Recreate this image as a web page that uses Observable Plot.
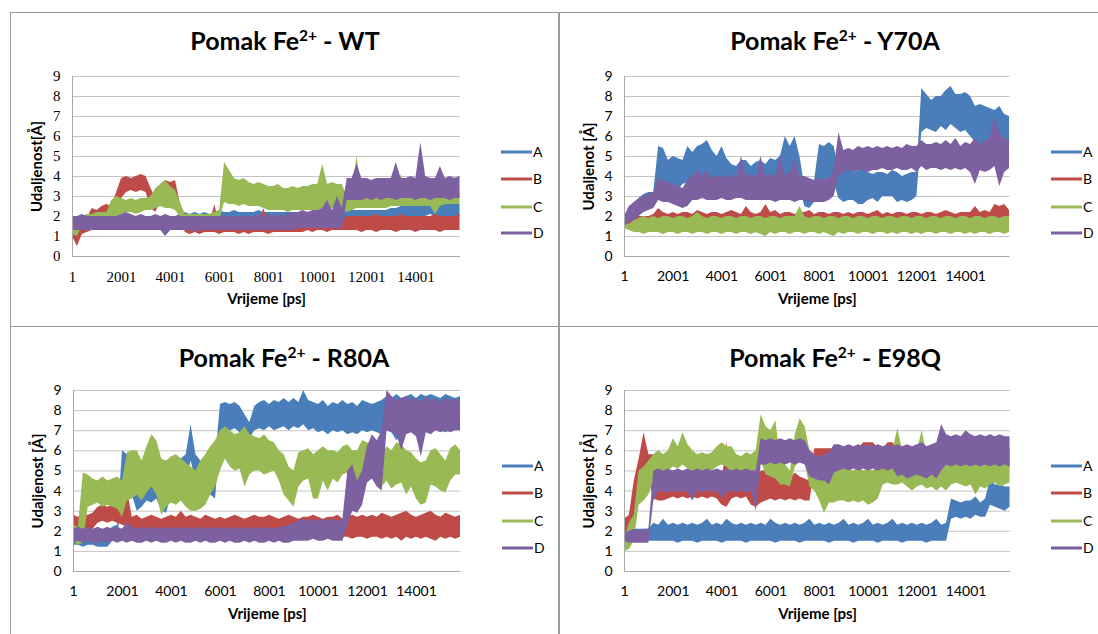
<!DOCTYPE html>
<html><head><meta charset="utf-8">
<script src="https://cdn.jsdelivr.net/npm/d3@7"></script>
<script src="https://cdn.jsdelivr.net/npm/@observablehq/plot@0.6"></script>
<style>
html,body{margin:0;padding:0;background:#fff;}
body{width:1098px;height:634px;overflow:hidden;position:relative;font-family:Lato,"Open Sans",sans-serif;color:#000;}
.panel{position:absolute;border:1px solid #9c9c9c;box-sizing:border-box;}
.title{position:absolute;font-weight:bold;font-size:25px;line-height:1;transform:translate(-50%,-50%);white-space:nowrap;}
.title sup{font-size:0.62em;vertical-align:0;position:relative;top:-0.55em;}
.chart{position:absolute;}
.leg{position:absolute;font-size:14px;line-height:1;white-space:nowrap;}
</style>
</head><body>
<script>
// ---------- data (Å), one value every sampleStep ps ----------
const sampleStep = 200;
const xTicks = [1,2001,4001,6001,8001,10001,12001,14001];
const yTicks = [0,1,2,3,4,5,6,7,8,9];
const seriesNames = ["A","B","C","D"];
const seriesColors = ["#4A7EBB","#BE4B48","#98B954","#7D60A0"];
const panelNames = ["WT","Y70A","R80A","E98Q"];
const yLabels = ["Udaljenost[Å]","Udaljenot [Å]","Udaljenost [Å]","Udaljenost [Å]"];
const xLabel = "Vrijeme [ps]";

// WT
const wtA_lo = [1.4,1.4,1.5,1.5,1.4,1.5,1.5,1.4,1.5,1.5, 1.5,1.4,1.5,1.5,1.4,1.5,1.5,1.4,1.5,1.5, 1.5,1.5,1.5,1.6,1.6,1.6,1.6,1.6,1.6,1.6, 1.6,1.5,1.6,1.6,1.5,1.6,1.6,1.5,1.6,1.6, 1.6,1.5,1.6,1.6,1.6,1.5,1.6,1.6,1.6,1.6, 1.6,1.6,1.6,1.6,1.6,1.6,1.9,1.9,1.9,1.8, 1.9,1.9,1.9,1.9,1.9,1.9,1.9,1.9,2.0,2.0, 2.0,2.0,2.0,2.1,2.0,2.0,2.0,2.0,2.0,2.0];
const wtA_hi = [1.9,1.9,2.0,2.0,1.9,2.0,2.0,1.9,2.0,2.0, 2.0,2.0,2.0,2.0,2.0,2.0,2.0,2.0,2.0,2.0, 2.0,2.0,2.1,2.2,2.1,2.2,2.1,2.2,2.1,2.2, 2.3,2.2,2.2,2.3,2.2,2.2,2.2,2.2,2.3,2.2, 2.2,2.2,2.2,2.2,2.2,2.2,2.2,2.2,2.2,2.2, 2.2,2.2,2.2,2.2,2.2,2.2,2.3,2.3,2.3,2.3, 2.3,2.3,2.3,2.3,2.3,2.4,2.4,2.5,2.6,2.6, 2.7,2.6,2.7,2.8,2.9,2.7,2.8,2.7,2.7,2.6];
const wtB_lo = [1.0,0.5,1.1,1.2,1.3,1.3,1.4,1.4,1.5,1.6, 2.9,3.2,3.3,3.2,3.3,3.2,2.4,2.2,2.8,3.0, 2.9,2.7,1.8,1.2,1.1,1.2,1.1,1.2,1.2,1.2, 1.1,1.2,1.2,1.2,1.1,1.2,1.1,1.2,1.2,1.2, 1.1,1.2,1.2,1.2,1.2,1.2,1.2,1.2,1.3,1.2, 1.3,1.3,1.2,1.3,1.3,1.3,1.3,1.3,1.3,1.2, 1.3,1.3,1.2,1.3,1.3,1.3,1.2,1.3,1.3,1.3, 1.2,1.3,1.3,1.3,1.3,1.2,1.3,1.3,1.3,1.3];
const wtB_hi = [1.6,1.5,1.8,1.9,2.4,2.3,2.5,2.6,2.5,3.2, 3.9,4.0,3.9,4.0,4.1,4.0,3.4,2.9,3.6,3.8, 3.7,3.8,2.6,2.0,1.7,1.6,1.6,1.7,1.6,2.6, 1.6,1.6,1.7,1.6,1.6,1.6,1.7,1.6,1.6,2.4, 1.6,1.6,1.6,1.6,1.7,1.6,1.6,1.6,1.7,1.7, 1.7,1.6,1.7,1.7,1.7,1.7,2.0,2.0,2.0,2.0, 2.0,2.0,2.1,2.0,2.0,2.0,2.0,2.1,2.0,2.0, 2.0,2.0,2.0,2.0,2.1,2.0,2.0,2.0,2.0,2.1];
const wtC_lo = [1.1,1.0,1.5,1.5,1.6,1.6,1.6,1.7,1.9,2.0, 2.1,2.2,2.2,2.1,2.2,2.3,2.3,2.4,2.5,2.4, 2.4,2.3,2.0,1.7,1.7,1.7,1.7,1.7,1.7,1.8, 1.8,2.7,2.6,2.6,2.5,2.6,2.5,2.5,2.5,2.4, 2.3,2.3,2.3,2.3,2.2,2.3,2.3,2.3,2.3,2.3, 2.3,2.4,2.4,2.4,2.4,2.3,2.2,2.3,2.4,2.4, 2.4,2.4,2.4,2.4,2.4,2.5,2.5,2.5,2.5,2.5, 2.5,2.5,2.5,2.5,2.1,2.5,2.6,2.6,2.6,2.6];
const wtC_hi = [1.5,1.4,2.0,2.1,2.1,2.2,2.2,2.2,2.8,3.0, 2.9,2.8,2.9,2.8,2.9,2.9,3.0,3.4,3.6,3.8, 3.5,3.3,2.7,2.1,2.1,2.1,2.1,2.1,2.1,2.2, 2.3,4.7,4.3,3.9,3.8,3.9,3.7,3.6,3.7,3.6, 3.5,3.5,3.6,3.4,3.4,3.5,3.4,3.5,3.5,3.6, 3.6,4.6,3.6,3.7,3.6,3.6,3.0,3.2,5.0,3.2, 3.0,3.0,3.0,3.0,3.0,3.0,3.1,4.1,3.0,3.0, 3.0,3.1,3.0,3.0,3.0,3.1,3.1,3.2,4.0,3.1];
const wtD_lo = [1.3,1.3,1.3,1.3,1.3,1.3,1.3,1.3,1.3,1.3, 1.3,1.3,1.3,1.3,1.3,1.3,1.3,1.3,1.3,1.0, 1.3,1.3,1.3,1.3,1.3,1.2,1.3,1.3,1.3,1.3, 1.3,1.3,1.3,1.3,1.3,1.3,1.3,1.3,1.3,1.3, 1.3,1.3,1.3,1.3,1.3,1.3,1.4,1.4,1.4,1.4, 1.4,1.4,1.4,1.4,1.4,1.4,2.8,2.8,2.8,2.8, 2.9,2.8,2.9,2.8,2.9,2.9,2.8,2.9,2.9,2.9, 2.8,2.9,2.9,2.8,2.9,2.9,2.9,2.8,2.9,2.9];
const wtD_hi = [2.0,2.0,2.1,2.0,2.0,2.0,2.0,2.0,2.0,2.0, 2.1,2.2,2.1,2.0,2.1,2.0,2.0,2.1,2.0,2.1, 2.0,2.0,2.0,2.0,2.0,2.0,2.0,2.0,2.0,2.0, 2.0,2.0,2.0,2.0,2.0,2.0,2.0,2.0,2.1,2.0, 2.1,2.0,2.1,2.0,2.1,2.2,2.2,2.3,2.2,2.3, 2.3,2.4,2.8,2.3,3.0,2.4,3.9,3.9,4.6,3.9, 3.9,3.8,3.9,3.9,3.9,3.9,4.7,3.9,3.9,4.0, 3.9,5.7,4.0,3.9,3.9,4.5,3.9,4.0,3.9,4.0];

// Y70A
const yA_lo = [1.7,1.8,2.0,2.3,2.5,2.6,2.7,3.6,3.5,3.4, 3.5,3.3,3.6,3.7,3.5,3.8,3.9,4.0,3.8,3.7, 3.9,3.6,3.5,3.4,3.5,3.6,3.5,3.6,3.5,3.8, 3.8,3.6,3.7,3.9,4.0,3.9,3.4,2.5,2.4,2.7, 3.7,3.6,3.8,3.7,2.9,2.7,2.8,2.8,2.6,2.6, 2.8,2.9,2.7,3.0,3.0,3.0,2.7,2.8,2.7,2.8, 3.0,6.2,6.4,6.3,6.2,6.5,6.3,6.6,6.4,6.2, 6.3,6.0,5.7,5.6,5.6,5.8,5.7,5.8,5.4,5.6];
const yA_hi = [2.0,2.3,2.6,2.9,3.1,3.2,3.2,5.5,5.4,4.8, 5.0,4.9,4.8,5.5,5.2,5.5,5.6,5.8,5.3,5.0, 5.5,4.9,4.6,4.5,4.8,4.8,4.5,4.7,4.8,4.6, 4.9,4.8,5.0,6.0,5.5,6.0,5.0,3.5,3.2,3.8, 5.6,5.5,5.7,5.5,4.4,4.3,4.4,4.2,4.3,4.4, 4.2,4.1,4.2,4.2,4.1,4.3,4.2,4.0,4.1,4.2, 4.2,8.4,8.1,7.8,8.0,8.0,8.3,8.5,8.1,8.1, 8.2,8.0,7.5,7.6,7.5,7.4,7.3,7.5,7.1,7.0];
const yB_lo = [1.6,1.6,1.6,1.6,1.6,1.6,1.6,1.7,1.7,1.7, 1.7,1.7,1.7,1.7,1.7,1.7,1.7,1.7,1.7,1.7, 1.7,1.7,1.7,1.7,1.7,1.7,1.7,1.7,1.7,1.7, 1.7,1.7,1.7,1.7,1.7,1.7,1.7,1.7,1.7,1.7, 1.7,1.7,1.7,1.7,1.7,1.7,1.7,1.7,1.7,1.7, 1.7,1.7,1.7,1.7,1.7,1.7,1.7,1.7,1.7,1.7, 1.7,1.7,1.7,1.7,1.7,1.7,1.7,1.7,1.7,1.7, 1.7,1.7,1.7,1.7,1.7,1.7,1.7,1.7,1.7,1.7];
const yB_hi = [1.9,2.0,2.0,2.0,2.0,2.0,2.1,2.4,2.2,2.1, 2.2,2.1,2.2,2.2,2.1,2.3,2.2,2.1,2.2,2.2, 2.1,2.2,2.3,2.2,2.1,2.5,2.2,2.1,2.2,2.6, 2.2,2.3,2.1,2.2,2.2,2.1,2.2,2.2,2.3,2.1, 2.2,2.2,2.1,2.2,2.2,2.1,2.2,2.1,2.2,2.2, 2.1,2.2,2.3,2.1,2.2,2.1,2.2,2.2,2.1,2.2, 2.2,2.1,2.2,2.2,2.1,2.2,2.3,2.2,2.1,2.2, 2.2,2.2,2.5,2.2,2.3,2.2,2.6,2.5,2.6,2.3];
const yC_lo = [1.4,1.3,1.2,1.2,1.1,1.2,1.2,1.2,1.1,1.2, 1.2,1.1,1.2,1.2,1.1,1.2,1.2,1.1,1.2,1.2, 1.1,1.2,1.2,1.1,1.2,1.2,1.1,1.2,1.1,1.0, 1.2,1.1,1.2,1.2,1.1,1.2,1.2,1.1,1.2,1.2, 1.1,1.2,1.1,1.0,1.2,1.1,1.2,1.2,1.1,1.2, 1.2,1.1,1.2,1.2,1.1,1.2,1.1,1.2,1.2,1.1, 1.2,1.1,1.2,1.2,1.1,1.2,1.2,1.1,1.2,1.2, 1.1,1.2,1.1,1.2,1.2,1.1,1.2,1.2,1.1,1.2];
const yC_hi = [1.7,1.6,1.8,1.9,2.0,1.9,2.0,1.9,2.0,2.0, 1.9,2.0,2.0,1.9,2.0,2.2,2.0,1.9,2.0,2.0, 1.9,2.0,2.0,1.9,2.0,2.0,1.9,2.0,2.0,1.9, 2.0,2.0,1.9,2.0,2.0,2.0,2.5,2.0,1.9,2.0, 2.0,1.9,2.0,2.0,1.9,2.0,2.0,1.9,2.0,2.0, 1.9,2.0,2.0,1.9,2.0,2.0,1.9,2.0,2.0,1.9, 2.0,2.0,1.9,2.0,2.0,1.9,2.0,2.0,1.9,2.0, 2.0,1.9,2.0,2.0,1.9,2.0,2.0,1.9,2.0,2.0];
const yD_lo = [1.5,1.7,1.8,2.0,2.2,2.3,2.4,2.8,2.7,2.7, 2.6,2.5,2.4,2.5,2.8,2.8,2.9,2.8,2.8,2.8, 2.9,2.8,2.8,2.9,2.9,2.8,2.8,2.8,2.8,2.8, 2.8,2.7,2.8,2.8,2.8,2.7,2.8,2.8,2.7,2.7, 2.7,2.7,2.8,3.0,4.0,4.2,4.3,4.2,4.3,4.3, 4.2,4.3,4.3,4.4,4.3,4.3,4.4,4.3,4.3,4.4, 4.2,4.5,4.3,4.4,4.4,4.3,4.4,4.3,4.4,4.3, 4.4,4.2,3.6,4.3,4.2,4.3,4.5,3.5,4.2,4.4];
const yD_hi = [2.0,2.5,2.7,2.9,3.0,3.1,3.2,3.9,3.8,3.7, 3.6,3.5,3.4,3.8,4.0,4.3,4.0,4.3,3.9,4.0, 4.0,3.9,4.1,3.9,5.0,4.0,4.1,3.9,5.0,4.0, 4.1,4.0,5.1,4.0,4.2,4.9,4.0,4.0,3.9,3.8, 3.9,3.8,3.9,4.3,6.2,5.3,5.4,5.3,5.5,5.4, 5.5,5.4,5.5,5.4,5.5,5.4,5.5,5.4,5.6,5.5, 5.5,5.8,5.6,5.6,5.7,5.6,5.8,5.6,5.9,5.5, 5.7,5.6,5.9,5.6,5.8,5.9,6.9,6.2,5.9,5.8];

// R80A
const rA_lo = [1.3,1.3,1.2,1.3,1.3,1.2,1.2,1.2,1.5,1.6, 3.8,4.0,3.8,3.0,3.2,3.5,3.4,3.6,3.0,2.9, 3.8,4.3,4.2,4.4,5.5,4.5,4.0,4.2,3.8,3.6, 6.8,7.0,7.0,7.1,6.9,6.7,6.6,7.0,7.1,7.0, 7.2,7.0,7.1,7.2,7.0,7.2,7.1,7.3,7.0,7.1, 6.9,7.0,6.8,7.0,6.9,7.0,6.8,6.9,6.8,7.0, 6.9,7.0,6.9,6.8,7.0,6.9,6.5,6.8,7.0,6.9, 7.0,6.8,7.0,6.9,7.1,7.0,6.9,7.0,7.1,7.0];
const rA_hi = [2.0,1.9,1.9,1.9,1.9,1.9,1.9,2.0,2.2,2.3, 6.0,5.8,5.5,4.5,4.6,5.8,5.5,5.2,5.4,5.0, 5.6,5.7,5.6,5.8,7.3,5.8,5.5,5.6,5.8,5.6, 8.3,8.4,8.3,8.4,8.2,7.8,7.4,8.2,8.4,8.5, 8.3,8.5,8.4,8.6,8.4,8.6,8.4,9.0,8.5,8.4, 8.3,8.5,8.2,8.4,8.3,8.5,8.3,8.4,8.2,8.5, 8.4,8.3,8.4,8.5,8.7,8.6,8.8,8.6,8.7,8.8, 8.6,8.8,8.7,8.8,8.7,8.6,8.8,8.7,8.6,8.7];
const rB_lo = [2.0,2.0,2.1,2.0,2.1,2.4,2.5,2.4,2.5,2.4, 2.3,2.2,1.7,1.7,1.6,1.7,1.7,1.6,1.7,1.7, 1.7,1.6,1.7,1.7,1.7,1.6,1.7,1.7,1.7,1.6, 1.7,1.7,1.6,1.7,1.7,1.7,1.6,1.7,1.7,1.7, 1.6,1.7,1.7,1.7,1.6,1.7,1.7,1.7,1.6,1.7, 1.7,1.7,1.6,1.7,1.7,1.7,1.7,1.6,1.7,1.7, 1.6,1.7,1.7,1.6,1.7,1.6,1.7,1.5,1.7,1.6, 1.7,1.6,1.7,1.6,1.5,1.7,1.6,1.7,1.6,1.7];
const rB_hi = [2.8,2.7,2.8,2.8,2.9,3.2,3.3,3.2,3.3,3.2, 3.1,4.0,2.7,2.8,2.6,2.7,2.8,2.7,2.6,2.7, 2.8,2.7,3.0,2.7,2.8,2.7,2.6,2.8,2.7,2.6, 2.7,2.6,2.7,2.8,2.7,2.6,2.7,2.8,2.7,2.7, 2.8,2.7,2.6,2.7,2.8,2.7,2.6,2.7,2.7,2.8, 2.7,2.6,2.7,2.7,2.8,2.6,2.7,2.8,2.7,2.8, 2.7,2.8,2.7,2.9,2.8,2.7,2.8,2.9,3.0,2.8, 2.7,2.8,2.9,3.0,2.8,2.7,2.9,2.8,2.7,2.8];
const rC_lo = [1.5,1.3,1.4,3.2,3.3,3.4,3.2,3.3,3.2,3.1, 2.7,3.5,3.6,3.8,3.5,3.9,4.2,3.8,2.8,3.2, 3.4,3.3,3.5,3.2,3.0,3.0,3.1,3.3,3.8,4.2, 5.0,5.6,5.2,5.0,5.1,4.2,4.8,5.0,5.0,4.8, 4.9,5.0,4.5,3.8,3.5,3.2,4.2,4.5,4.6,3.6, 3.6,4.5,4.0,4.6,4.4,4.8,4.9,4.0,4.2,5.0, 4.8,4.6,4.3,4.2,4.5,4.1,4.3,4.4,3.8,4.2, 3.6,3.3,3.4,4.3,4.2,4.0,3.9,4.5,4.8,4.8];
const rC_hi = [2.3,2.2,4.9,4.8,4.6,4.5,4.7,4.5,4.6,4.7, 4.5,5.9,6.0,6.0,5.5,6.2,6.8,6.5,5.6,5.5, 5.7,5.8,5.6,5.4,5.2,5.0,5.5,5.8,6.2,6.5, 7.0,7.2,7.0,6.8,6.9,7.2,6.8,6.7,6.6,6.8, 6.5,6.4,6.0,5.8,5.2,5.0,5.9,6.0,6.1,5.8, 6.0,6.2,6.0,6.0,5.9,6.2,6.3,6.0,6.0,6.5, 6.4,6.2,6.0,5.8,6.2,6.0,6.4,6.3,6.0,5.9, 5.6,5.4,5.5,6.0,6.1,5.8,5.5,6.1,6.3,6.0];
const rD_lo = [1.4,1.5,1.4,1.5,1.4,1.4,1.5,1.4,1.5,1.4, 1.5,1.4,1.5,1.4,1.4,1.5,1.4,1.5,1.4,1.4, 1.5,1.4,1.5,1.4,1.4,1.5,1.4,1.5,1.4,1.4, 1.5,1.4,1.5,1.4,1.4,1.5,1.4,1.5,1.4,1.4, 1.5,1.4,1.5,1.4,1.4,1.5,1.5,1.5,1.5,1.6, 1.5,1.5,1.6,1.5,1.5,1.5,2.3,3.0,2.9,3.3, 4.4,4.6,4.2,4.0,7.0,6.9,6.8,6.0,6.8,6.9, 6.7,5.7,6.9,6.8,7.0,6.9,7.0,6.9,7.0,7.0];
const rD_hi = [2.1,2.2,2.1,2.2,2.1,2.2,2.1,2.2,2.1,2.2, 2.1,2.4,2.2,2.1,2.2,2.1,2.2,2.1,2.2,2.1, 2.2,2.1,2.2,2.1,2.2,2.1,2.2,2.1,2.2,2.1, 2.2,2.1,2.2,2.1,2.2,2.1,2.2,2.1,2.2,2.1, 2.2,2.1,2.2,2.2,2.3,2.4,2.5,2.6,2.5,2.6, 2.5,2.6,2.5,2.6,2.5,2.6,5.0,5.3,4.5,5.0, 6.2,6.8,6.5,7.0,9.0,8.7,8.5,8.6,8.7,8.5, 8.6,8.4,8.7,8.5,8.6,8.4,8.6,8.5,8.6,8.4];

// E98Q
const eA_lo = [1.4,1.5,1.5,1.5,1.5,1.5,1.5,1.5,1.5,1.5, 1.5,1.4,1.5,1.5,1.5,1.4,1.5,1.5,1.5,1.5, 1.4,1.5,1.5,1.5,1.5,1.4,1.5,1.5,1.5,1.5, 1.5,1.4,1.5,1.5,1.5,1.5,1.4,1.5,1.5,1.5, 1.5,1.5,1.4,1.5,1.5,1.5,1.5,1.4,1.5,1.5, 1.5,1.5,1.4,1.5,1.5,1.5,1.5,1.4,1.5,1.5, 1.5,1.5,1.4,1.5,1.5,1.5,1.5, 2.6,2.7,2.6,2.7,2.6,2.8,2.7,2.7,3.3,3.2,3.1,3.0,3.2];
const eA_hi = [2.0,2.1,2.1,2.1,2.1,2.1,2.4,2.3,2.6,2.3, 2.4,2.3,2.4,2.3,2.4,2.3,2.4,2.6,2.3,2.4, 2.3,2.6,2.4,2.3,2.4,2.3,2.4,2.3,2.4,2.3, 2.6,2.4,2.3,2.4,2.3,2.4,2.3,2.4,2.6,2.3, 2.4,2.3,2.4,2.3,2.4,2.6,2.3,2.4,2.3,2.4, 2.6,2.3,2.4,2.3,2.4,2.6,2.3,2.4,2.3,2.4, 2.3,2.4,2.3,2.4,2.6,2.3,2.4, 3.6,3.5,3.4,3.5,3.5,3.7,3.4,3.6,4.6,4.3,4.3,4.2,4.2];
const eB_lo = [2.0,1.8,2.4,4.3,4.5,4.6,3.6,3.5,3.5,3.6, 3.7,3.6,3.7,3.6,3.7,3.6,3.7,3.6,3.7,3.6, 3.3,3.2,3.6,3.7,3.6,3.7,3.3,3.2,3.4,3.5, 3.6,3.5,3.6,3.5,3.6,3.5,3.6,3.5,3.5,5.1, 5.1,5.2,5.1,5.2,5.1,5.2,5.1,5.2,5.1,5.2, 5.1,5.2,5.1,5.2,5.1,5.2,5.1,5.2,5.1,5.2, 5.1,5.2,5.1,5.2,5.1,5.2,5.1,5.2,5.1,5.2, 5.1,5.2,5.1,5.2,5.1,5.2,5.1,5.2,5.1,5.2];
const eB_hi = [2.6,2.8,4.5,5.6,6.9,5.8,5.8,5.0,4.6,4.5, 4.5,4.5,4.5,4.5,4.5,4.5,4.5,4.5,4.5,4.5, 4.5,6.4,4.5,4.5,4.5,4.5,4.5,4.5,5.0,5.0, 4.8,4.6,4.7,4.8,4.6,4.9,4.7,4.6,4.5,6.1, 6.1,6.1,6.1,6.1,6.1,6.1,6.1,6.1,6.1,6.4, 6.4,6.4,6.1,6.1,6.4,6.4,6.1,6.1,6.1,6.1, 6.1,6.1,6.1,6.1,6.1,6.1,6.1,6.1,6.1,6.1, 6.1,6.1,6.1,6.1,6.1,6.1,6.1,6.1,6.1,6.1];
const eC_lo = [1.0,1.1,1.5,3.3,3.5,3.8,4.5,5.0,4.9,5.0, 5.2,5.1,5.3,5.1,5.0,4.9,5.0,4.9,5.0,5.2, 5.3,5.2,4.9,4.8,4.8,4.9,4.8,5.0,5.5,4.8, 4.7,4.6,4.3,4.3,4.2,5.2,5.5,5.4,4.2,4.0, 3.5,2.9,3.4,3.4,3.5,3.5,3.4,3.5,3.4,3.5, 3.3,3.4,3.6,4.3,4.4,4.3,4.3,4.4,4.2,4.0, 4.2,4.3,4.1,4.2,4.0,4.2,4.0,4.3,4.4,4.3, 4.2,4.3,3.8,4.2,4.1,4.3,4.4,4.2,4.3,4.4];
const eC_hi = [1.6,2.4,2.8,5.0,5.2,5.5,5.8,6.0,5.8,6.0, 6.6,6.2,6.9,6.3,6.0,5.8,5.9,5.8,5.9,6.2, 6.4,6.2,6.2,5.8,5.7,5.9,5.8,6.0,7.8,7.2, 7.0,7.5,5.6,5.3,5.0,6.8,7.6,7.2,6.0,5.8, 5.2,5.0,5.1,5.3,5.0,5.2,5.1,5.0,5.2,5.0, 5.1,5.0,5.3,5.6,5.8,6.0,7.1,6.0,6.2,5.8, 6.0,7.0,5.8,5.9,5.7,5.8,5.5,5.6,5.7,5.5, 5.6,5.7,5.5,5.4,5.6,5.5,5.7,5.5,5.6,5.6];
const eD_lo = [1.5,1.4,1.4,1.4,1.4,1.4,3.5,3.9,4.0,3.9, 4.0,3.9,4.0,3.9,3.5,4.0,3.9,4.0,3.9,4.0, 3.6,3.9,4.0,3.9,4.0,3.9,4.0,3.0,5.3,5.3, 5.4,5.3,5.4,5.3,5.4,5.3,5.4,5.3,4.7,4.6, 4.5,4.5,4.3,4.9,5.0,5.1,5.0,5.1,5.0,5.1, 5.0,5.1,5.0,5.1,5.0,5.1,4.7,4.8,4.6,4.7, 4.8,4.7,4.6,4.8,4.6,5.0,5.3,5.2,5.3,5.2, 5.3,5.2,5.3,5.2,5.3,5.2,5.3,5.2,5.3,5.2];
const eD_hi = [1.9,2.0,2.1,2.0,2.1,2.1,5.0,5.1,5.0,5.1, 5.0,5.1,5.0,5.1,5.0,5.1,5.0,5.1,5.0,5.1, 5.0,5.1,5.0,5.1,5.0,5.1,5.0,5.0,6.6,6.5, 6.6,6.5,6.6,6.5,6.6,6.5,6.6,6.5,6.0,5.8, 5.7,5.8,5.9,6.3,6.3,6.2,6.3,6.2,6.3,6.2, 6.3,6.2,6.3,6.2,6.3,6.2,6.3,6.2,6.3,6.2, 6.3,6.4,6.2,6.3,6.4,7.3,6.8,6.7,6.8,6.7, 7.0,6.8,6.7,6.8,6.7,6.8,6.7,6.8,6.7,6.7];

// ---------- layout ----------
const panels = [
  {name:panelNames[0], yLabel:yLabels[0], series:[[wtA_lo,wtA_hi],[wtB_lo,wtB_hi],[wtC_lo,wtC_hi],[wtD_lo,wtD_hi]],
   box:{l:72,r:460,t:76,b:256}, title:[285,40], legX:501, legY:[152,179,207,233], tickFont:"'Liberation Serif', serif", tickFs:15},
  {name:panelNames[1], yLabel:yLabels[1], series:[[yA_lo,yA_hi],[yB_lo,yB_hi],[yC_lo,yC_hi],[yD_lo,yD_hi]],
   box:{l:624,r:1009.5,t:76,b:256}, title:[835,40], legX:1051, legY:[152,179,207,233], tickFont:"Lato, sans-serif", tickFs:14},
  {name:panelNames[2], yLabel:yLabels[2], series:[[rA_lo,rA_hi],[rB_lo,rB_hi],[rC_lo,rC_hi],[rD_lo,rD_hi]],
   box:{l:72.5,r:460,t:390,b:571}, title:[284,357], legX:502, legY:[466,493,521,548], tickFont:"Lato, sans-serif", tickFs:14},
  {name:panelNames[3], yLabel:yLabels[3], series:[[eA_lo,eA_hi],[eB_lo,eB_hi],[eC_lo,eC_hi],[eD_lo,eD_hi]],
   box:{l:624,r:1010,t:390,b:571}, title:[835,357], legX:1051, legY:[466,493,521,548], tickFont:"Lato, sans-serif", tickFs:14}
];
const frames = [
  {left:10, top:12, w:549, h:315},
  {left:559, top:12, w:560, h:315},
  {left:10, top:326, w:549, h:330},
  {left:559, top:326, w:560, h:330}
];
frames.forEach(f => {
  const d = document.createElement("div");
  d.className = "panel";
  Object.assign(d.style, {left:f.left+"px", top:f.top+"px", width:f.w+"px", height:f.h+"px"});
  document.body.appendChild(d);
});

const mL = 70, mR = 6, mT = 6, mB = 56;
panels.forEach(p => {
  const rows = [];
  p.series.forEach(([lo, hi], k) => {
    if (lo.length !== 80 || hi.length !== 80) throw new Error(p.name + " " + seriesNames[k] + " length " + lo.length + "/" + hi.length);
    lo.forEach((v, i) => rows.push({s: seriesNames[k], t: 1 + sampleStep * i, lo: v, hi: hi[i]}));
  });
  const b = p.box;
  const chart = Plot.plot({
    width: (b.r - b.l) + mL + mR,
    height: (b.b - b.t) + mT + mB,
    marginLeft: mL, marginRight: mR, marginTop: mT, marginBottom: mB,
    x: {domain: [1, 15820]},
    y: {domain: [0, 9]},
    color: {domain: seriesNames, range: seriesColors},
    style: {fontFamily: "Lato, sans-serif", fontSize: "14px", color: "#000", background: "transparent", overflow: "visible"},
    marks: [
      Plot.gridY(yTicks.filter(d => d > 0), {stroke: "#c4c4c4", strokeOpacity: 1, strokeWidth: 1}),
      Plot.areaY(rows, {x: "t", y1: "lo", y2: "hi", z: "s", fill: "s", fillOpacity: 1, curve: "linear", clip: true}),
      Plot.ruleY([0], {stroke: "#a8a8a8"}),
      Plot.ruleX([1], {stroke: "#a8a8a8"}),
      Plot.axisY({ticks: yTicks, tickSize: 0, tickPadding: 12, label: null}),
      Plot.axisX({ticks: xTicks, tickSize: 0, tickPadding: 15, tickFormat: d => String(d), label: null}),
      Plot.text([p.yLabel], {text: d => d, frameAnchor: "left", rotate: -90, dx: -35, textAnchor: "middle", lineAnchor: "middle", fontWeight: "bold", fontSize: 15}),
      Plot.text([xLabel], {text: d => d, frameAnchor: "bottom", dy: 43, textAnchor: "middle", lineAnchor: "middle", fontWeight: "bold", fontSize: 15})
    ]
  });
  chart.classList.add("chart");
  chart.style.left = (b.l - mL) + "px";
  chart.style.top = (b.t - mT) + "px";
  d3.select(chart).selectAll('g[aria-label="y-axis tick label"], g[aria-label="x-axis tick label"]')
    .style("font-family", p.tickFont).style("font-size", p.tickFs + "px");
  document.body.appendChild(chart);

  const t = document.createElement("div");
  t.className = "title";
  t.style.left = p.title[0] + "px";
  t.style.top = p.title[1] + "px";
  t.innerHTML = "Pomak Fe<sup>2+</sup> - " + p.name;
  document.body.appendChild(t);

  seriesNames.forEach((s, k) => {
    const d = document.createElement("div");
    d.className = "leg";
    d.style.left = p.legX + "px";
    d.style.top = (p.legY[k] - 7) + "px";
    d.innerHTML = '<svg width="32" height="14" style="vertical-align:top"><line x1="0" x2="31" y1="7" y2="7" stroke="' + seriesColors[k] + '" stroke-width="3"/></svg><span>' + s + '</span>';
    document.body.appendChild(d);
  });
});
</script>
</body></html>
